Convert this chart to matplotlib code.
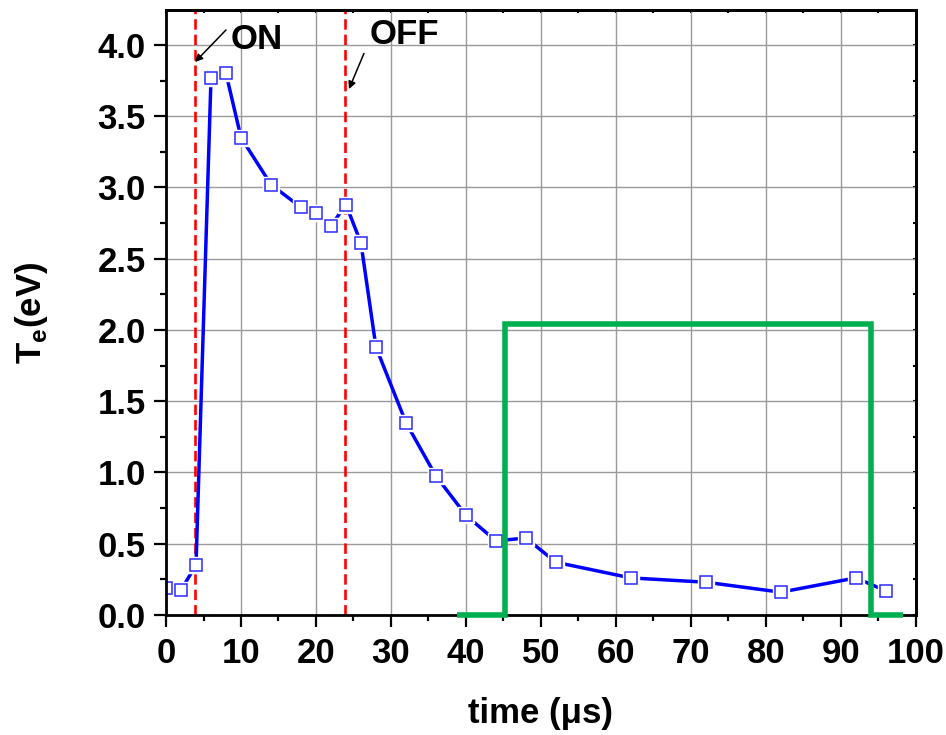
import matplotlib
matplotlib.use("Agg")
import matplotlib.pyplot as plt
from matplotlib.ticker import MultipleLocator, FormatStrFormatter

plt.rcParams['font.family'] = ['Liberation Sans', 'DejaVu Sans']
plt.rcParams['font.weight'] = 'bold'
plt.rcParams['mathtext.fontset'] = 'custom'
plt.rcParams['mathtext.rm'] = 'Liberation Sans:bold'
plt.rcParams['mathtext.bf'] = 'Liberation Sans:bold'
plt.rcParams['lines.scale_dashes'] = False

# Electron temperature vs time
time_us = [0, 2, 4, 6, 8, 10, 14, 18, 20, 22, 24, 26, 28, 32, 36, 40,
           44, 48, 52, 62, 72, 82, 92, 96]
te_ev = [0.19, 0.175, 0.35, 3.77, 3.80, 3.35, 3.02, 2.86, 2.82, 2.73, 2.88,
         2.61, 1.88, 1.35, 0.975, 0.70, 0.52, 0.54, 0.37, 0.26, 0.23, 0.16,
         0.26, 0.17]

# Pulse trace (green) and ON/OFF markers
pulse_t = [38.8, 45.2, 45.2, 94.1, 94.1, 98.3]
pulse_v = [0.0, 0.0, 2.04, 2.04, 0.0, 0.0]
t_on = 3.8
t_off = 23.9

fig = plt.figure(figsize=(9.46, 7.35), dpi=100)
ax = fig.add_axes([0.1755, 0.1633, 0.7925, 0.8231])

ax.set_xlim(0, 100)
ax.set_ylim(0, 4.245)

ax.grid(True, which='major', color='#9a9a9a', lw=1.0, zorder=0)
ax.set_axisbelow(True)

for t in (t_on, t_off):
    ax.axvline(t, color='red', lw=1.9, dashes=(7.5, 3.6), zorder=2)

ax.plot(time_us, te_ev, color='#0000ff', lw=2.5, zorder=3)
# white halo behind markers leaves a small gap around each square
ax.plot(time_us, te_ev, ls='none', marker='s', ms=12, mfc='white',
        mec='white', zorder=4)
ax.plot(time_us, te_ev, ls='none', marker='s', ms=8.5, mfc='white',
        mec='#2a2aff', mew=1.1, zorder=5)

ax.plot(pulse_t, pulse_v, color='#00b050', lw=4.0, solid_joinstyle='miter',
        solid_capstyle='butt', clip_on=False, zorder=9)

ax.annotate('', xy=(3.87, 3.88), xytext=(8.0, 4.105),
            arrowprops=dict(arrowstyle='-|>', color='black', lw=1.1,
                            mutation_scale=11, shrinkA=0, shrinkB=0))
ax.text(8.6, 4.04, 'ON', fontsize=25, fontweight='bold', va='center',
        ha='left')
ax.annotate('', xy=(24.4, 3.69), xytext=(26.4, 3.94),
            arrowprops=dict(arrowstyle='-|>', color='black', lw=1.1,
                            mutation_scale=11, shrinkA=0, shrinkB=0))
ax.text(27.2, 4.07, 'OFF', fontsize=25, fontweight='bold', va='center',
        ha='left')

ax.xaxis.set_major_locator(MultipleLocator(10))
ax.xaxis.set_minor_locator(MultipleLocator(5))
ax.yaxis.set_major_locator(MultipleLocator(0.5))
ax.yaxis.set_minor_locator(MultipleLocator(0.25))
ax.yaxis.set_major_formatter(FormatStrFormatter('%.1f'))

ax.tick_params(which='major', direction='out', length=8.5, width=1.6,
               labelsize=25, pad=6)
ax.tick_params(which='minor', direction='out', length=4.5, width=1.6)
ax.tick_params(axis='x', which='major', pad=7)

for s in ax.spines.values():
    s.set_linewidth(2.0)
    s.set_zorder(7)

# small inward ticks mirrored on top and right
top = ax.secondary_xaxis('top')
top.xaxis.set_major_locator(MultipleLocator(10))
top.xaxis.set_minor_locator(MultipleLocator(5))
top.tick_params(which='both', direction='in', length=2.5, width=1.5,
                labeltop=False)
top.spines['top'].set_linewidth(2.0)
right = ax.secondary_yaxis('right')
right.yaxis.set_major_locator(MultipleLocator(0.5))
right.yaxis.set_minor_locator(MultipleLocator(0.25))
right.tick_params(which='both', direction='in', length=2.5, width=1.5,
                  labelright=False)
right.spines['right'].set_linewidth(2.0)

ax.set_xlabel('time (\u03bcs)', fontsize=25, fontweight='bold', labelpad=20)
ax.set_ylabel(r'T$_{\rm e}$(eV)', fontsize=25, fontweight='bold', labelpad=34)

fig.savefig('out.png', dpi=100)
